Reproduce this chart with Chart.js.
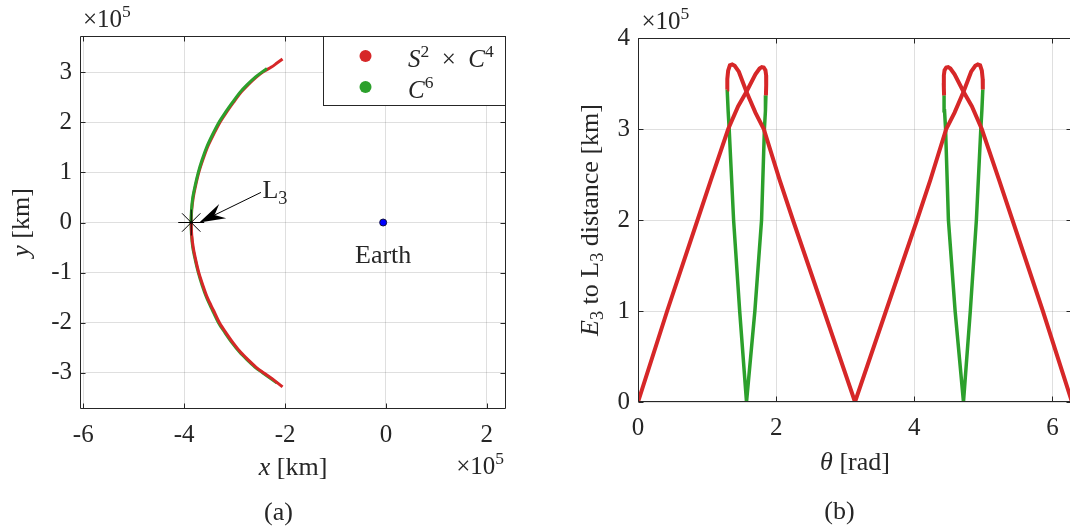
<!DOCTYPE html>
<html><head><meta charset="utf-8">
<script src="https://cdn.jsdelivr.net/npm/chart.js@4.4.1/dist/chart.umd.min.js"></script>
<style>
html,body{margin:0;padding:0;background:#fff;overflow:hidden;width:1070px;height:531px;}
#ca{position:absolute;left:0;top:0;}
#cb{position:absolute;left:540px;top:0;}
</style></head><body>
<canvas id="ca" width="540" height="531"></canvas>
<canvas id="cb" width="540" height="531"></canvas>
<script>
// ---------------- Panel (a): trajectories in the x-y plane (units of 1e5 km)
const arcRedX = [-2.05,-2.16,-2.27,-2.44,-2.57,-2.73,-2.87,-3.02,-3.16,-3.29,-3.42,-3.54,-3.63,-3.71,-3.77,-3.82,-3.85,-3.86,-3.85,-3.82,-3.77,-3.71,-3.63,-3.54,-3.42,-3.30,-3.17,-3.03,-2.87,-2.72,-2.56,-2.42,-2.25,-2.05];
const arcRedY = [3.26,3.18,3.10,3.00,2.90,2.75,2.60,2.40,2.20,2.00,1.75,1.50,1.25,1.00,0.75,0.50,0.25,0,-0.25,-0.50,-0.75,-1.00,-1.25,-1.50,-1.75,-2.00,-2.20,-2.40,-2.60,-2.75,-2.90,-3.00,-3.12,-3.28];
const arcGreenUpX = [-2.36,-2.46,-2.59,-2.75,-2.89,-3.04,-3.18,-3.31,-3.44,-3.555,-3.645,-3.72,-3.78,-3.83,-3.855,-3.865];
const arcGreenUpY = [3.07,3.00,2.90,2.75,2.60,2.40,2.20,2.00,1.75,1.50,1.25,1.00,0.75,0.50,0.25,0];
const arcGreenLowX = [-3.865,-3.855,-3.83,-3.78,-3.72,-3.645,-3.555,-3.44,-3.32,-3.19,-3.05,-2.89,-2.74,-2.58,-2.44,-2.16];
const arcGreenLowY = [0,-0.25,-0.50,-0.75,-1.00,-1.25,-1.50,-1.75,-2.00,-2.20,-2.40,-2.60,-2.75,-2.90,-3.00,-3.20];
const l3Point = [-3.86, 0];
const earthPoint = [-0.055, 0];
const l3ArrowTail = [-2.478, 0.60];
const l3ArrowTip = [-3.70, 0];
const xTicksA = [-6,-4,-2,0,2];
const yTicksA = [-3,-2,-1,0,1,2,3];

// ---------------- Panel (b): E3 to L3 distance vs theta (units of 1e5 km)
const redAT = [0,0.422,0.862,1.056,1.306,1.45,1.570,1.70,1.76,1.792,1.82,1.845,1.855,1.856,1.852];
const redAD = [0,1.0,2.0,2.44,3.0,3.25,3.41,3.60,3.665,3.68,3.675,3.645,3.59,3.48,3.37];
const redBT = [1.291,1.293,1.305,1.33,1.364,1.40,1.46,1.570,1.70,1.821,2.05,2.243,2.693,3.1416,3.590,4.040,4.233,4.462,4.583,4.713,4.823,4.883,4.919,4.953,4.978,4.990,4.992];
const redBD = [3.435,3.55,3.64,3.70,3.71,3.695,3.63,3.41,3.18,3.0,2.44,2.0,1.0,0,1.0,2.0,2.44,3.0,3.18,3.41,3.63,3.695,3.71,3.70,3.64,3.55,3.435];
const redCT = [4.431,4.427,4.428,4.438,4.463,4.491,4.523,4.583,4.713,4.833,4.977,5.227,5.421,5.861,6.2832];
const redCD = [3.37,3.48,3.59,3.645,3.675,3.68,3.665,3.60,3.41,3.25,3.0,2.44,2.0,1.0,0];
const greenAT = [1.852,1.845,1.83,1.789,1.692,1.571,1.472,1.384,1.32,1.305,1.291];
const greenAD = [3.37,3.2,3.0,2.0,1.0,0,1.0,2.0,3.0,3.2,3.435];
const greenBT = [4.992,4.978,4.963,4.899,4.811,4.712,4.591,4.494,4.453,4.438,4.431];
const greenBD = [3.435,3.2,3.0,2.0,1.0,0,1.0,2.0,3.0,3.2,3.37];
const xTicksB = [0,2,4,6];
const yTicksB = [0,1,2,3,4];

const RED = '#d62728', GREEN = '#2ca02c', AX = '#262626', GRID = 'rgba(38,38,38,0.15)';
const FONT = '"Liberation Serif", "Times New Roman", serif';
const pts = (xs, ys) => xs.map((x, i) => ({x, y: ys[i]}));

function setFont(ctx, size, italic) { ctx.font = (italic ? 'italic ' : '') + size + 'px ' + FONT; }
function segSize(s, size) { return (s.sub || s.sup) ? size * 0.7 : size; }
function richWidth(ctx, segs, size) {
  let w = 0;
  for (const s of segs) { setFont(ctx, segSize(s, size), s.it); w += ctx.measureText(s.t).width; }
  return w;
}
function drawRich(ctx, segs, x, y, size, align, rot) {
  ctx.save();
  ctx.translate(x, y);
  if (rot) ctx.rotate(rot);
  const w = richWidth(ctx, segs, size);
  let cx = align === 'center' ? -w / 2 : (align === 'right' ? -w : 0);
  ctx.fillStyle = AX; ctx.textBaseline = 'alphabetic'; ctx.textAlign = 'left';
  for (const s of segs) {
    const sz = segSize(s, size);
    setFont(ctx, sz, s.it);
    const dy = s.sub ? size * 0.22 : (s.sup ? -size * 0.4 : 0);
    ctx.fillText(s.t, cx, dy);
    cx += ctx.measureText(s.t).width;
  }
  ctx.restore();
}

const frame = {
  id: 'frame',
  afterDatasetsDraw(chart) {
    const {ctx, chartArea: a, scales: {x, y}} = chart;
    const L = 5;
    const l = Math.round(a.left) + 0.5, r = Math.round(a.right) - 0.5, t = Math.round(a.top) + 0.5, b = Math.round(a.bottom) - 0.5;
    ctx.save();
    ctx.strokeStyle = AX; ctx.lineWidth = 1;
    ctx.beginPath();
    for (const tk of x.ticks) {
      const px = Math.round(x.getPixelForValue(tk.value)) + 0.5;
      ctx.moveTo(px, b); ctx.lineTo(px, b - L);
      ctx.moveTo(px, t); ctx.lineTo(px, t + L);
    }
    for (const tk of y.ticks) {
      const py = Math.round(y.getPixelForValue(tk.value)) + 0.5;
      ctx.moveTo(l, py); ctx.lineTo(l + L, py);
      ctx.moveTo(r, py); ctx.lineTo(r - L, py);
    }
    ctx.rect(l, t, r - l, b - t);
    ctx.stroke();
    ctx.restore();
  }
};

function scaleOpts(min, max, ticksArr, isX, fit, pad) {
  return {
    type: 'linear', min, max, bounds: 'data',
    afterBuildTicks: s => { s.ticks = ticksArr.map(v => ({value: v})); },
    afterFit: s => { if (isX) s.height = fit; else s.width = fit; },
    ticks: {font: {family: FONT, size: 25}, color: AX, padding: pad, maxRotation: 0, autoSkip: false,
            callback: v => String(v)},
    grid: {color: GRID, lineWidth: 1, drawTicks: false},
    border: {display: false}
  };
}

const panelA = {
  id: 'panelA',
  afterDraw(chart) {
    const {ctx, chartArea: a, scales: {x, y}} = chart;
    // arrow to L3
    const tx = x.getPixelForValue(l3ArrowTail[0]), ty = y.getPixelForValue(l3ArrowTail[1]);
    const hx = x.getPixelForValue(l3ArrowTip[0]), hy = y.getPixelForValue(l3ArrowTip[1]);
    const dx = tx - hx, dy = ty - hy, len = Math.hypot(dx, dy);
    const ux = dx / len, uy = dy / len, nx = -uy, ny = ux;
    const HL = 26, HW = 8, NOTCH = 17;
    ctx.save();
    ctx.strokeStyle = '#000'; ctx.lineWidth = 1;
    ctx.beginPath(); ctx.moveTo(tx, ty); ctx.lineTo(hx + ux * NOTCH, hy + uy * NOTCH); ctx.stroke();
    ctx.fillStyle = '#000';
    ctx.beginPath();
    ctx.moveTo(hx, hy);
    ctx.lineTo(hx + ux * HL + nx * HW, hy + uy * HL + ny * HW);
    ctx.lineTo(hx + ux * NOTCH, hy + uy * NOTCH);
    ctx.lineTo(hx + ux * HL - nx * HW, hy + uy * HL - ny * HW);
    ctx.closePath(); ctx.fill();
    ctx.restore();
    drawRich(ctx, [{t: 'L'}, {t: '3', sub: 1}], tx + 1.5, ty + 6, 26, 'left');
    // Earth label
    const ex = x.getPixelForValue(earthPoint[0]), ey = y.getPixelForValue(earthPoint[1]);
    drawRich(ctx, [{t: 'Earth'}], ex, ey + 40, 26, 'center');
    // legend
    const bl = a.right - 183, bt = a.top, bw = 183, bh = 69;
    ctx.save();
    ctx.fillStyle = '#fff'; ctx.fillRect(bl, bt, bw, bh);
    ctx.strokeStyle = AX; ctx.lineWidth = 1;
    ctx.strokeRect(Math.round(bl) + 0.5, Math.round(bt) + 0.5, bw - 1, bh);
    const rows = [
      {color: chart.data.datasets[3].borderColor, segs: [{t: 'S', it: 1}, {t: '2', sup: 1}, {t: '  ×  '}, {t: 'C', it: 1}, {t: '4', sup: 1}]},
      {color: chart.data.datasets[2].borderColor, segs: [{t: 'C', it: 1}, {t: '6', sup: 1}]}
    ];
    rows.forEach((row, i) => {
      ctx.fillStyle = row.color;
      ctx.beginPath(); ctx.arc(bl + 42.5, bt + 20 + i * 31, 6, 0, Math.PI * 2); ctx.fill();
      drawRich(ctx, row.segs, bl + 85, bt + 30.5 + i * 31, 25, 'left');
    });
    ctx.restore();
    // titles
    drawRich(ctx, [{t: '×10'}, {t: '5', sup: 1}], a.left + 3, a.top - 9, 25, 'left');
    drawRich(ctx, [{t: '×10'}, {t: '5', sup: 1}], a.right - 2, a.bottom + 65, 25, 'right');
    drawRich(ctx, [{t: 'x', it: 1}, {t: ' [km]'}], (a.left + a.right) / 2, a.bottom + 66, 26, 'center');
    drawRich(ctx, [{t: 'y', it: 1}, {t: ' [km]'}], a.left - 51, (a.top + a.bottom) / 2, 26, 'center', -Math.PI / 2);
    drawRich(ctx, [{t: '(a)'}], 278.5, 519.5, 26, 'center');
  }
};

const panelB = {
  id: 'panelB',
  afterDraw(chart) {
    const {ctx, chartArea: a} = chart;
    drawRich(ctx, [{t: '×10'}, {t: '5', sup: 1}], a.left + 3.5, a.top - 9, 25, 'left');
    drawRich(ctx, [{t: 'θ', it: 1}, {t: ' [rad]'}], (a.left + a.right) / 2, a.bottom + 68, 26, 'center');
    drawRich(ctx, [{t: 'E', it: 1}, {t: '3', sub: 1}, {t: ' to L'}, {t: '3', sub: 1}, {t: ' distance [km]'}],
             a.left - 40.5, (a.top + a.bottom) / 2, 26, 'center', -Math.PI / 2);
    drawRich(ctx, [{t: '(b)'}], 299.5, 519, 26, 'center');
  }
};

const common = {
  responsive: false, animation: false, events: [],
  plugins: {legend: {display: false}, tooltip: {enabled: false}}
};

new Chart(document.getElementById('ca'), {
  type: 'scatter',
  data: {datasets: [
    {label: 'L3', data: [{x: l3Point[0], y: l3Point[1]}], pointStyle: 'star', pointRadius: 13,
     borderColor: '#000', borderWidth: 1, backgroundColor: 'rgba(0,0,0,0)'},
    {label: 'Earth', data: [{x: earthPoint[0], y: earthPoint[1]}], pointRadius: 3.5,
     backgroundColor: '#0000ff', borderColor: '#101040', borderWidth: 1},
    {label: 'C6 (upper)', data: pts(arcGreenUpX, arcGreenUpY), showLine: true, borderColor: GREEN, borderWidth: 3, pointRadius: 0, tension: 0.3},
    {label: 'S2 x C4', data: pts(arcRedX, arcRedY), showLine: true, borderColor: RED, borderWidth: 3, pointRadius: 0, tension: 0.3},
    {label: 'C6 (lower)', data: pts(arcGreenLowX, arcGreenLowY), showLine: true, borderColor: GREEN, borderWidth: 3, pointRadius: 0, tension: 0.3}
  ]},
  options: Object.assign({}, common, {
    layout: {padding: {left: 0, top: 36, right: 34, bottom: 0}},
    scales: {
      x: scaleOpts(-6.065, 2.38, xTicksA, true, 122, 11),
      y: scaleOpts(-3.72, 3.72, yTicksA, false, 80, 8)
    }
  }),
  plugins: [frame, panelA]
});

new Chart(document.getElementById('cb'), {
  type: 'scatter',
  data: {datasets: [
    {label: 'S2 x C4 a', data: pts(redAT, redAD), showLine: true, borderColor: RED, borderWidth: 4, pointRadius: 0, tension: 0},
    {label: 'S2 x C4 b', data: pts(redBT, redBD), showLine: true, borderColor: RED, borderWidth: 4, pointRadius: 0, tension: 0},
    {label: 'S2 x C4 c', data: pts(redCT, redCD), showLine: true, borderColor: RED, borderWidth: 4, pointRadius: 0, tension: 0},
    {label: 'C6 a', data: pts(greenAT, greenAD), showLine: true, borderColor: GREEN, borderWidth: 3.5, pointRadius: 0, tension: 0},
    {label: 'C6 b', data: pts(greenBT, greenBD), showLine: true, borderColor: GREEN, borderWidth: 3.5, pointRadius: 0, tension: 0}
  ]},
  options: Object.assign({}, common, {
    layout: {padding: {left: 0, top: 38, right: 8, bottom: 0}},
    scales: {
      x: scaleOpts(0, 6.2832, xTicksB, true, 129, 11),
      y: scaleOpts(0, 4, yTicksB, false, 98, 8)
    }
  }),
  plugins: [frame, panelB]
});
</script></body></html>
